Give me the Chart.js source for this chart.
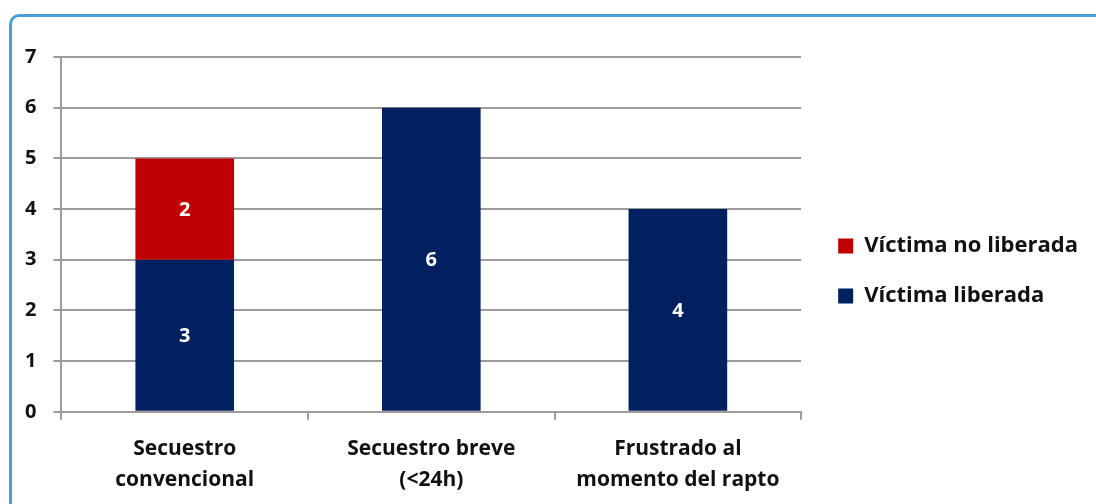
<!DOCTYPE html>
<html>
<head>
<meta charset="utf-8">
<script src="https://cdn.jsdelivr.net/npm/chart.js@4"></script>
<style>
  html, body { margin: 0; padding: 0; background: #fff; overflow: hidden; }
  body { width: 1096px; height: 504px; position: relative; }
  .card {
    position: absolute; left: 9px; top: 14px; width: 1200px; height: 600px;
    border: 3px solid #4a9fd8; border-radius: 10px; box-sizing: border-box;
  }
  .wrap { position: absolute; left: 0; top: 0; width: 1096px; height: 504px; }
</style>
</head>
<body>
<div class="card"></div>
<div class="wrap"><canvas id="chart"></canvas></div>
<script>
// categories and series
const categories = [
  ['Secuestro', 'convencional'],
  ['Secuestro breve', '(<24h)'],
  ['Frustrado al', 'momento del rapto']
];
const liberada = [3, 6, 4];
const noLiberada = [2, 0, 0];
const yTicks = [0, 1, 2, 3, 4, 5, 6, 7];

const FONT = '"Open Sans", Lato, sans-serif';

// white value labels in the middle of each segment
const valueLabels = {
  id: 'valueLabels',
  afterDatasetsDraw(chart) {
    const ctx = chart.ctx;
    ctx.save();
    ctx.fillStyle = '#ffffff';
    ctx.font = 'bold 20px ' + FONT;
    ctx.textAlign = 'center';
    ctx.textBaseline = 'middle';
    chart.data.datasets.forEach((ds, i) => {
      chart.getDatasetMeta(i).data.forEach((bar, j) => {
        const v = ds.data[j];
        if (!v) return;
        const p = bar.getProps(['x', 'y', 'base'], true);
        ctx.fillText(String(v), p.x, (p.y + p.base) / 2 + 1);
      });
    });
    ctx.restore();
  }
};

// empty axes used only as spacers around the plot
const spacer = (pos, size) => ({
  type: 'linear',
  position: pos,
  display: true,
  grid: { display: false },
  border: { display: false },
  ticks: { display: false },
  afterFit(axis) {
    if (pos === 'top') axis.height = size; else axis.width = size;
  }
});

new Chart(document.getElementById('chart'), {
  type: 'bar',
  data: {
    labels: categories,
    datasets: [{
      label: 'Víctima liberada',
      data: liberada,
      backgroundColor: '#002060'
    }, {
      label: 'Víctima no liberada',
      data: noLiberada,
      backgroundColor: '#c00000'
    }]
  },
  options: {
    responsive: true,
    maintainAspectRatio: false,
    animation: false,
    layout: { padding: { left: 8, top: 32, right: 8, bottom: -6 } },
    datasets: { bar: { barPercentage: 0.4, categoryPercentage: 1.0 } },
    plugins: {
      legend: {
        position: 'right',
        reverse: true,
        maxWidth: 400,
        labels: {
          boxWidth: 15,
          boxHeight: 15,
          padding: 28,
          color: '#111',
          font: { family: FONT, size: 22, weight: 'bold' }
        }
      },
      tooltip: { enabled: false }
    },
    scales: {
      x: {
        stacked: true,
        grid: {
          offset: true,
          drawOnChartArea: false,
          color: '#9c9c9c',
          lineWidth: 2,
          tickLength: 8
        },
        border: { color: '#9c9c9c', width: 2 },
        ticks: {
          color: '#111',
          padding: 14,
          maxRotation: 0,
          font: { family: FONT, size: 21, weight: 'bold', lineHeight: 1.48 }
        }
      },
      y: {
        stacked: true,
        min: 0,
        max: 7,
        afterBuildTicks(axis) { axis.ticks = yTicks.map(v => ({ value: v })); },
        grid: { color: '#9c9c9c', lineWidth: 2, tickLength: 8 },
        border: { color: '#9c9c9c', width: 2 },
        ticks: {
          color: '#111',
          padding: 17,
          font: { family: FONT, size: 20, weight: 'bold' }
        }
      },
      topGap: spacer('top', 25),
      rightGap: spacer('right', 9)
    }
  },
  plugins: [valueLabels]
});
</script>
</body>
</html>
